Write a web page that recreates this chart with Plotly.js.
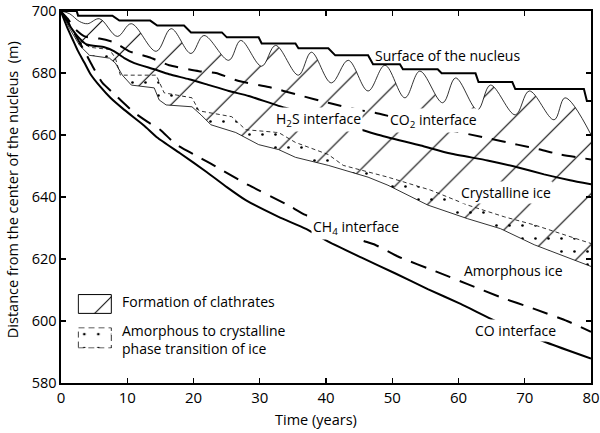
<!DOCTYPE html>
<html><head><meta charset="utf-8">
<script src="https://cdn.plot.ly/plotly-3.0.1.min.js"></script>
<style>html,body{margin:0;padding:0;background:#fff}#chart{width:600px;height:433px}</style>
</head><body><div id="chart"></div>
<script>
// ---- data (time in years, distance in m) ----
const surfaceX = [0, 2.36, 2.58, 7.76, 8.81, 13.47, 14.52, 18.57, 19.62, 24.28, 25.03, 29.83, 30.29, 35.39, 35.84, 40.35, 41.40, 46.35, 47.10, 51.16, 51.61, 56.86, 57.46, 62.57, 63.02, 68.12, 68.57, 78.93, 79.38, 80];
const surfaceY = [700, 700, 698.5, 698.5, 696.9, 696.9, 695.3, 695.3, 693.1, 693.1, 691.5, 691.5, 689.5, 689.5, 688.0, 688.0, 685.7, 685.7, 682.8, 682.8, 681.2, 681.2, 679.9, 679.9, 677.1, 677.1, 674.8, 674.8, 671.0, 671.0];

const waveX = [0, 1.31, 2.81, 4.01, 5.81, 8.51, 10.6, 14.37, 16.62, 19.62, 21.57, 25.33, 27.13, 30.29, 32.39, 35.84, 37.79, 40.8, 43.35, 46.35, 48.9, 51.91, 54.16, 57.61, 59.56, 62.87, 64.82, 68.57, 70.68, 74.43, 76.08, 80];
const waveY = [700, 699.1, 696.6, 695.9, 697.5, 691.8, 695.9, 687.0, 694.3, 686.3, 692.1, 684.1, 690.5, 682.2, 688.9, 679.3, 686.7, 676.8, 684.1, 674.2, 682.5, 672.0, 680.6, 670.4, 678.4, 668.1, 676.1, 666.5, 674.2, 664.9, 672.0, 660.1];

const co2X = [0, 1.01, 2.06, 3.56, 5.81, 8.06, 10.32, 13.32, 16.32, 20.83, 23.38, 26.84, 31.34, 35.84, 40.35, 44.85, 47.4, 52.36, 58.36, 63.92, 68.87, 72.33, 75.33, 80];
const co2Y = [699.8, 697.5, 694.3, 691.8, 691.1, 689.9, 687.0, 685.1, 682.5, 680.6, 680.0, 677.4, 675.5, 672.9, 670.4, 668.1, 667.2, 664.6, 661.7, 659.2, 656.9, 655.3, 653.7, 652.1];

const h2sX = [0, 0.56, 1.61, 2.51, 3.86, 6.56, 8.06, 9.56, 11.07, 14.07, 16.32, 19.32, 21.88, 25.33, 28.33, 32.84, 38.84, 43.8, 47.85, 54.3, 58.81, 64.37, 68.87, 72.93, 76.83, 80];
const h2sY = [699.8, 698.2, 694.3, 691.8, 689.2, 688.3, 687.0, 684.8, 683.2, 681.2, 679.6, 678.0, 676.4, 674.2, 672.6, 669.4, 665.9, 662.7, 660.1, 656.6, 654.0, 651.8, 649.6, 647.3, 645.4, 644.1];

const crystX = [0, 1.31, 2.81, 4.31, 7.31, 8.21, 8.96, 14.37, 15.57, 19.77, 20.83, 25.78, 27.88, 32.84, 35.39, 40.35, 42.6, 49.35, 55.81, 61.37, 66.92, 71.43, 75.93, 80];
const crystY = [699.8, 695.3, 690.5, 688.3, 687.6, 684.8, 679.3, 679.3, 673.6, 672.0, 667.8, 665.9, 661.7, 660.8, 657.6, 653.7, 650.2, 646.4, 642.2, 637.4, 633.6, 631.0, 627.8, 625.0];

const amorphX = [0, 1.31, 2.81, 4.31, 7.31, 8.21, 9.26, 10.62, 14.07, 14.82, 15.87, 19.77, 21.13, 22.63, 26.38, 29.83, 32.84, 35.39, 40.35, 46.35, 49.35, 55.36, 61.37, 66.32, 71.43, 75.93, 80];
const amorphY = [699.8, 694.3, 688.9, 685.7, 684.8, 683.2, 679.3, 676.1, 675.2, 671.3, 669.7, 669.1, 666.5, 663.3, 660.8, 656.9, 655.3, 652.8, 650.2, 646.4, 643.8, 637.4, 633.0, 629.8, 624.6, 620.8, 617.6];

const ch4X = [0, 1.01, 2.06, 3.56, 4.76, 6.26, 8.21, 9.26, 11.07, 13.02, 14.97, 17.22, 20.08, 22.48, 24.58, 28.33, 33.9, 36.9, 41.1, 45.15, 47.4, 50.86, 56.56, 61.37, 66.32, 71.43, 76.38, 80];
const ch4Y = [699.8, 696.6, 692.7, 687.0, 682.2, 676.8, 672.9, 670.7, 667.2, 664.3, 661.7, 657.2, 653.7, 650.9, 648.3, 643.8, 637.8, 634.2, 630.1, 626.2, 624.6, 620.8, 616.0, 611.9, 607.7, 603.9, 600.0, 596.5];

const coX = [0, 0.41, 1.01, 1.76, 2.51, 3.56, 4.46, 5.96, 7.46, 9.56, 12.57, 14.52, 17.97, 22.03, 25.03, 27.88, 32.84, 36.9, 40.35, 45.3, 50.41, 55.36, 60.32, 66.17, 73.38, 80];
const coY = [699.8, 697.5, 694.3, 690.8, 687.3, 683.2, 679.6, 675.5, 672.0, 668.1, 663.0, 659.2, 654.1, 648.0, 643.2, 639.0, 633.6, 629.8, 625.6, 620.5, 615.4, 610.3, 605.5, 599.4, 593.0, 587.9];

const xTicks = [0, 10, 20, 30, 40, 50, 60, 70, 80];
const yTicks = [580, 600, 620, 640, 660, 680, 700];

const xTitle = 'Time (years)';
const yTitle = 'Distance from the center of the nucleus  (m)';

const curveLabels = ['Surface of the nucleus', 'CO<sub>2</sub> interface', 'H<sub>2</sub>S interface', 'Crystalline ice', 'CH<sub>4</sub> interface', 'Amorphous ice', 'CO interface'];
const labelX = [58.4, 56.2, 38.9, 67.2, 44.5, 68.3, 68.6];
const labelY = [685.7, 664.6, 664.9, 641.6, 630.1, 616.3, 596.8];
const labelBg = [false, true, true, true, true, false, true];

const legendLabels = ['Formation of clathrates', 'Amorphous to crystalline<br>phase transition of ice'];

// ---- styling ----
const FONT = '"Open Sans", sans-serif';
const K = 'black';
const hatch = {shape: '/', size: 36, solidity: 0.03, fgcolor: K, bgcolor: 'rgba(0,0,0,0)', fillmode: 'replace'};
const hatchSwatch = {shape: '/', size: 26, solidity: 0.04, fgcolor: K, bgcolor: 'rgba(0,0,0,0)', fillmode: 'replace'};
const dots = {shape: '.', size: 13, solidity: 0.032, fgcolor: K, bgcolor: 'rgba(0,0,0,0)', fillmode: 'replace'};
const dotsSwatch = {shape: '.', size: 14, solidity: 0.03, fgcolor: K, bgcolor: 'rgba(0,0,0,0)', fillmode: 'replace'};
const NONE = 'rgba(0,0,0,0)';
const base = {mode: 'lines', hoverinfo: 'skip', showlegend: false};

const traces = [
  Object.assign({}, base, {x: amorphX, y: amorphY, line: {color: K, width: 0.8}}),
  Object.assign({}, base, {x: waveX, y: waveY, line: {color: K, width: 0.8, shape: 'spline', smoothing: 1}, fill: 'tonexty', fillcolor: NONE, fillpattern: hatch}),
  Object.assign({}, base, {x: amorphX, y: amorphY, line: {color: NONE, width: 0}}),
  Object.assign({}, base, {x: crystX, y: crystY, line: {color: K, width: 0.8, dash: '4px,3px'}, fill: 'tonexty', fillcolor: NONE, fillpattern: dots}),
  Object.assign({}, base, {x: surfaceX, y: surfaceY, line: {color: K, width: 2}}),
  Object.assign({}, base, {x: co2X, y: co2Y, line: {color: K, width: 2, dash: '14px,10px', shape: 'spline', smoothing: 0.5}}),
  Object.assign({}, base, {x: h2sX, y: h2sY, line: {color: K, width: 2, shape: 'spline', smoothing: 0.5}}),
  Object.assign({}, base, {x: ch4X, y: ch4Y, line: {color: K, width: 2, dash: '16px,10px', shape: 'spline', smoothing: 0.5}}),
  Object.assign({}, base, {x: coX, y: coY, line: {color: K, width: 2, shape: 'spline', smoothing: 0.5}}),
  // legend swatches (unit squares on their own small axes)
  Object.assign({}, base, {x: [0, 1, 1, 0, 0], y: [0, 0, 1, 1, 0], xaxis: 'x2', yaxis: 'y2', line: {color: K, width: 1}, fill: 'toself', fillcolor: NONE, fillpattern: hatchSwatch}),
  Object.assign({}, base, {x: [0, 1, 1, 0, 0], y: [0, 0, 1, 1, 0], xaxis: 'x3', yaxis: 'y3', line: {color: K, width: 0.8, dash: '6px,4px'}, fill: 'toself', fillcolor: NONE, fillpattern: dotsSwatch})
];

const annotations = curveLabels.map((t, i) => ({
  text: t, x: labelX[i], y: labelY[i], xref: 'x', yref: 'y', showarrow: false,
  xanchor: 'center', yanchor: 'middle', font: {family: FONT, size: 14, color: K},
  bgcolor: labelBg[i] ? 'white' : NONE, borderpad: 1
}));
annotations.push({text: legendLabels[0], xref: 'paper', yref: 'paper', x: 0.1113, y: 0.2195, xanchor: 'left', yanchor: 'middle', showarrow: false, font: {family: FONT, size: 14, color: K}});
annotations.push({text: legendLabels[1], xref: 'paper', yref: 'paper', x: 0.1113, y: 0.1173, xanchor: 'left', yanchor: 'middle', align: 'left', showarrow: false, font: {family: FONT, size: 14, color: K}});
// axis titles
annotations.push({text: xTitle, xref: 'paper', yref: 'paper', x: 0.481, y: -0.0987, xanchor: 'center', yanchor: 'middle', showarrow: false, font: {family: FONT, size: 14.5, color: K}});
annotations.push({text: yTitle, xref: 'paper', yref: 'paper', x: -0.0925, y: 0.521, xanchor: 'center', yanchor: 'middle', textangle: -90, showarrow: false, font: {family: FONT, size: 14.5, color: K}});

const axisCommon = {
  showline: true, linecolor: K, linewidth: 1.6, mirror: 'ticks', ticks: 'inside', ticklen: 5,
  tickwidth: 1.2, tickcolor: K, showgrid: false, zeroline: false, ticklabeloverflow: 'allow',
  tickfont: {family: FONT, size: 15, color: K}
};
const hiddenAxis = {visible: false, range: [-0.03, 1.03], fixedrange: true};

const layout = {
  width: 600, height: 433,
  margin: {l: 61, r: 9, t: 11, b: 50},
  paper_bgcolor: 'white', plot_bgcolor: 'white',
  font: {family: FONT, size: 14, color: K},
  showlegend: false,
  xaxis: Object.assign({}, axisCommon, {range: [0, 80], tickvals: xTicks, ticktext: xTicks.map(String)}),
  yaxis: Object.assign({}, axisCommon, {range: [580, 700], tickvals: yTicks, ticktext: yTicks.map(String),
    tickfont: {family: FONT, size: 14.5, color: K}}),
  xaxis2: Object.assign({}, hiddenAxis, {domain: [0.0308, 0.0968], anchor: 'y2'}),
  yaxis2: Object.assign({}, hiddenAxis, {domain: [0.1856, 0.2392], anchor: 'x2'}),
  xaxis3: Object.assign({}, hiddenAxis, {domain: [0.0308, 0.0968], anchor: 'y3'}),
  yaxis3: Object.assign({}, hiddenAxis, {domain: [0.0925, 0.1501], anchor: 'x3'}),
  annotations: annotations
};

Plotly.newPlot('chart', traces, layout, {displayModeBar: false, staticPlot: true});
</script></body></html>
